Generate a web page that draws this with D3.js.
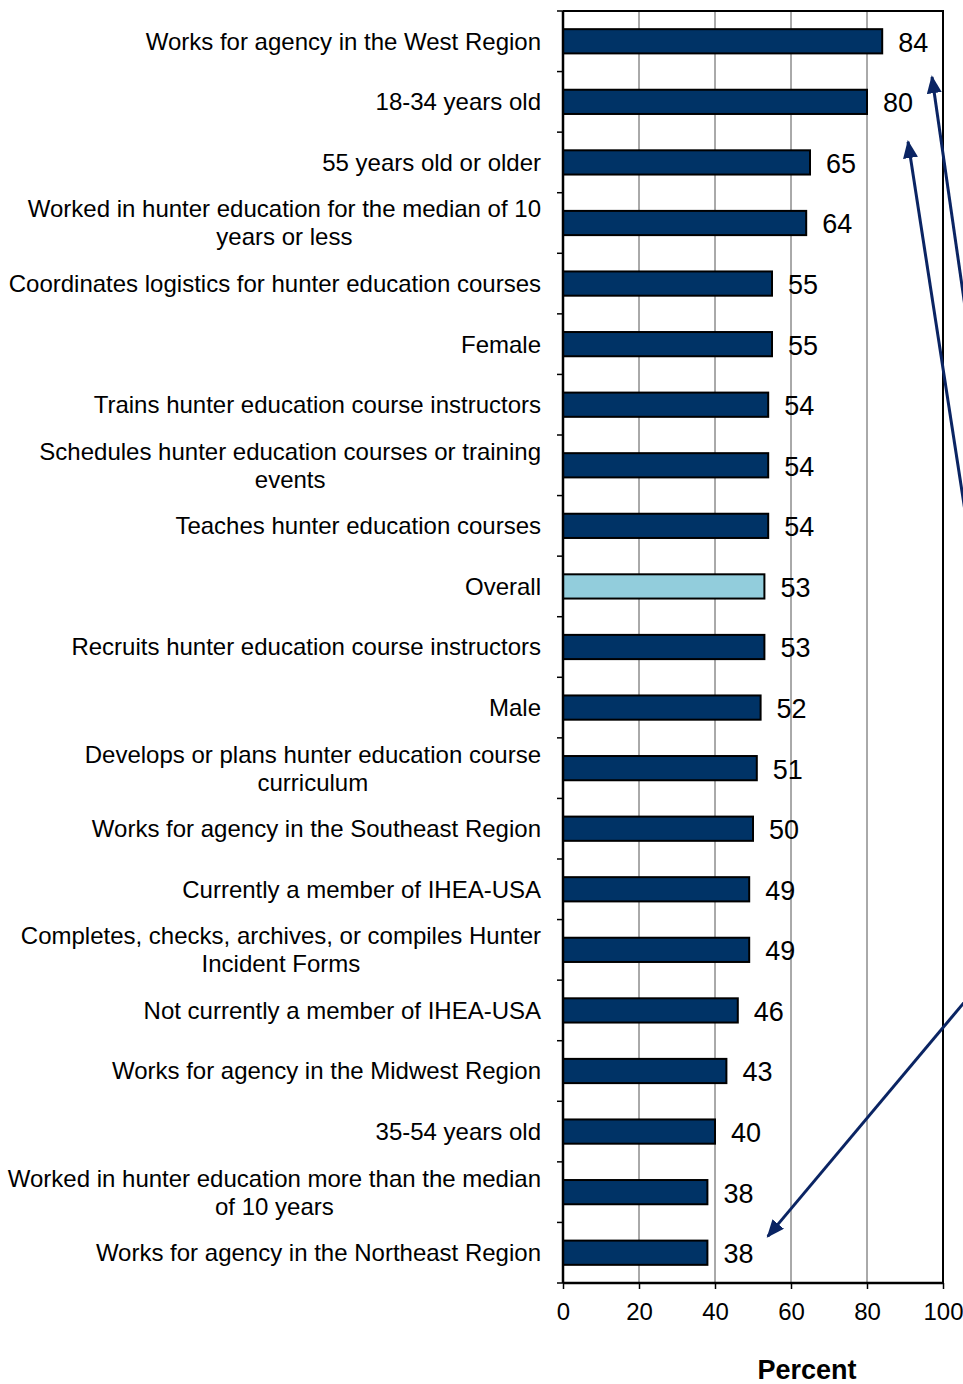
<!DOCTYPE html>
<html>
<head>
<meta charset="utf-8">
<script src="https://cdn.jsdelivr.net/npm/d3@7/dist/d3.min.js"></script>
<style>
  html, body { margin: 0; padding: 0; background: #fff; }
  svg { display: block; font-family: "Liberation Sans", Arial, sans-serif; }
</style>
</head>
<body>
<svg id="chart" width="963" height="1384"></svg>
<script>
// Category labels (multi-line labels split into lines)
const categories = [
  ["Works for agency in the West Region"],
  ["18-34 years old"],
  ["55 years old or older"],
  ["Worked in hunter education for the median of 10", "years or less"],
  ["Coordinates logistics for hunter education courses"],
  ["Female"],
  ["Trains hunter education course instructors"],
  ["Schedules hunter education courses or training", "events"],
  ["Teaches hunter education courses"],
  ["Overall"],
  ["Recruits hunter education course instructors"],
  ["Male"],
  ["Develops or plans hunter education course", "curriculum"],
  ["Works for agency in the Southeast Region"],
  ["Currently a member of IHEA-USA"],
  ["Completes, checks, archives, or compiles Hunter", "Incident Forms"],
  ["Not currently a member of IHEA-USA"],
  ["Works for agency in the Midwest Region"],
  ["35-54 years old"],
  ["Worked in hunter education more than the median", "of 10 years"],
  ["Works for agency in the Northeast Region"]
];
const values = [84, 80, 65, 64, 55, 55, 54, 54, 54, 53, 53, 52, 51, 50, 49, 49, 46, 43, 40, 38, 38];
const highlighted = ["Overall"];
const xTicks = [0, 20, 40, 60, 80, 100];
const axisTitle = "Percent";
// Annotation arrows: tip given on the value axis and in category-row units, tail as an offset
const arrowTips = [
  { x: 97.1, row: 1.09, dx: 46, dy: 320 },
  { x: 90.8, row: 2.16, dx: 71, dy: 460 },
  { x: 53.9, row: 20.23, dx: 240, dy: -286 }
];

const svg = d3.select("#chart");
const margin = { left: 563, top: 11 };
const plotR = 943, plotB = 1283;

const x = d3.scaleLinear().domain([0, 100]).range([margin.left, plotR]);
const idx = d3.range(categories.length);
const y = d3.scaleBand().domain(idx).range([margin.top, plotB]).paddingInner(0.6).paddingOuter(0.3);
const yb = d3.scaleBand().domain(idx).range([margin.top, plotB]);

const navy = "#003366";
const light = "#92CDDC";

// vertical gridlines
svg.append("g").selectAll("line").data(xTicks.filter(t => t > 0 && t < 100)).join("line")
  .attr("x1", d => x(d)).attr("x2", d => x(d))
  .attr("y1", margin.top).attr("y2", plotB)
  .attr("stroke", "#555").attr("stroke-width", 1);

// bars
svg.append("g").selectAll("rect").data(idx).join("rect")
  .attr("x", x(0))
  .attr("y", i => y(i))
  .attr("width", i => x(values[i]) - x(0))
  .attr("height", y.bandwidth())
  .attr("fill", i => highlighted.includes(categories[i][0]) ? light : navy)
  .attr("stroke", "#000").attr("stroke-width", 2);

// frame: top and right borders
svg.append("path")
  .attr("d", `M${margin.left},${margin.top}H${plotR}V${plotB}`)
  .attr("fill", "none").attr("stroke", "#000").attr("stroke-width", 2);

// category axis (left) with ticks at band boundaries
const catAxis = svg.append("g");
catAxis.append("line").attr("x1", margin.left).attr("x2", margin.left)
  .attr("y1", margin.top).attr("y2", plotB).attr("stroke", "#000").attr("stroke-width", 2.5);
catAxis.selectAll("line.tk").data(d3.range(categories.length + 1)).join("line")
  .attr("class", "tk")
  .attr("x1", margin.left - 6).attr("x2", margin.left)
  .attr("y1", i => margin.top + i * yb.step()).attr("y2", i => margin.top + i * yb.step())
  .attr("stroke", "#000").attr("stroke-width", 1.5);

// category labels: first line right-aligned, wrapped lines centered under it
const labelG = svg.append("g").attr("font-size", 24).attr("fill", "#000");
idx.forEach(i => {
  const lines = categories[i];
  const cy = yb(i) + yb.bandwidth() / 2;
  const lh = 28;
  const top = cy - (lines.length - 1) * lh / 2;
  const first = labelG.append("text")
    .attr("x", 541).attr("y", top).attr("dy", "0.35em")
    .attr("text-anchor", "end").text(lines[0]);
  if (lines.length > 1) {
    const w = first.node().getComputedTextLength();
    const cx = 541 - w / 2;
    lines.slice(1).forEach((ln, k) => {
      labelG.append("text").attr("x", cx).attr("y", top + (k + 1) * lh).attr("dy", "0.35em")
        .attr("text-anchor", "middle").text(ln);
    });
  }
});

// value labels
svg.append("g").attr("font-size", 27).selectAll("text").data(idx).join("text")
  .attr("x", i => x(values[i]) + 16)
  .attr("y", i => y(i) + y.bandwidth() / 2 + 1)
  .attr("dy", "0.35em")
  .text(i => values[i]);

// value axis (bottom)
const xAxis = svg.append("g").attr("transform", `translate(0,${plotB})`)
  .call(d3.axisBottom(x).tickValues(xTicks).tickSize(6).tickSizeOuter(0).tickPadding(14));
xAxis.select(".domain").attr("stroke", "#000").attr("stroke-width", 2.5)
  .attr("d", `M${margin.left},0H${plotR}`);
xAxis.selectAll(".tick line").attr("stroke", "#000").attr("stroke-width", 1.5);
xAxis.selectAll(".tick text").attr("font-size", 24).attr("font-family", "Liberation Sans, Arial, sans-serif").attr("fill", "#000");

svg.append("text").attr("x", 807).attr("y", 1379)
  .attr("text-anchor", "middle").attr("font-size", 27).attr("font-weight", "bold")
  .text(axisTitle);

// annotation arrows
const defs = svg.append("defs");
defs.append("marker").attr("id", "head").attr("viewBox", "0 0 10 10")
  .attr("refX", 9).attr("refY", 5).attr("markerWidth", 6).attr("markerHeight", 5)
  .attr("markerUnits", "strokeWidth").attr("orient", "auto")
  .attr("preserveAspectRatio", "none")
  .append("path").attr("d", "M0,0L10,5L0,10Z").attr("fill", "#0a2463");

svg.append("g").selectAll("line").data(arrowTips).join("line")
  .attr("x1", d => x(d.x) + d.dx)
  .attr("y1", d => margin.top + d.row * yb.step() + d.dy)
  .attr("x2", d => x(d.x))
  .attr("y2", d => margin.top + d.row * yb.step())
  .attr("stroke", "#0a2463").attr("stroke-width", 3)
  .attr("marker-end", "url(#head)");
</script>
</body>
</html>
